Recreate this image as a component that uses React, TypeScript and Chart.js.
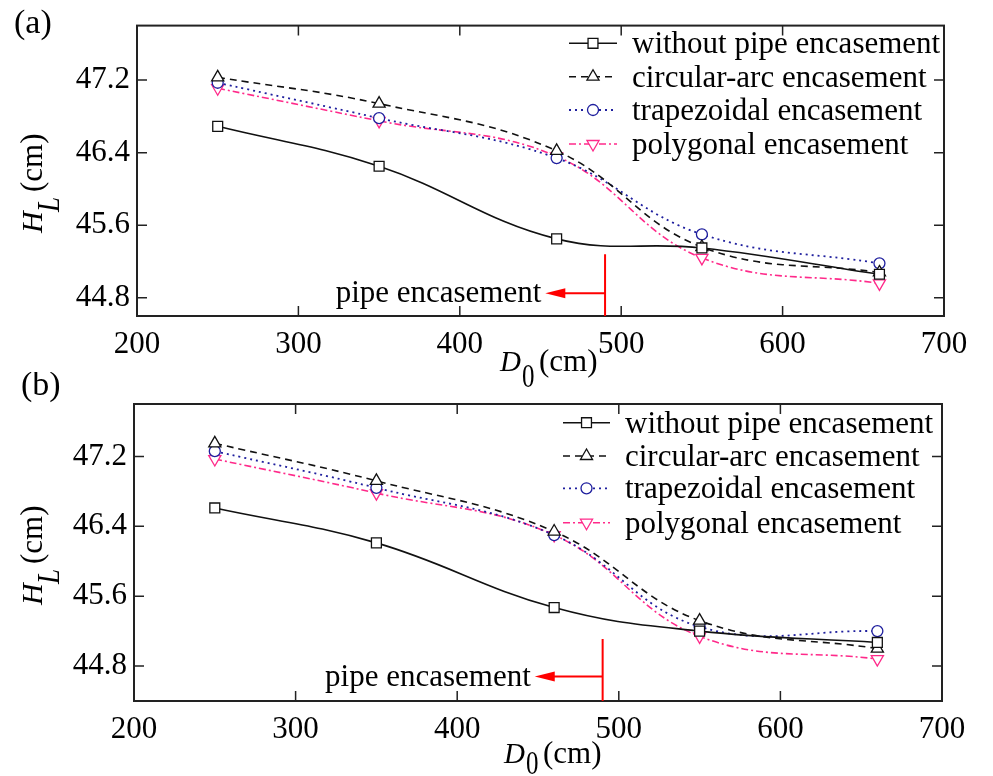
import React, { useEffect, useRef } from 'react';
import { Chart, registerables } from 'chart.js';

Chart.register(...registerables);

// ---------- data ----------
const D0_VALUES = [250, 350, 460, 550, 660];
const X_TICKS = [200, 300, 400, 500, 600, 700];
const Y_TICKS = [44.8, 45.6, 46.4, 47.2];
const SERIES_NAMES = [
  'without pipe encasement',
  'circular-arc encasement',
  'trapezoidal encasement',
  'polygonal encasement',
];

const A_WITHOUT = [46.69, 46.25, 45.45, 45.35, 45.06];
const A_CIRCULAR = [47.23, 46.94, 46.42, 45.36, 45.08];
const A_TRAPEZOIDAL = [47.17, 46.78, 46.34, 45.5, 45.18];
const A_POLYGONAL = [47.11, 46.75, 46.36, 45.24, 44.96];

const B_WITHOUT = [46.61, 46.21, 45.47, 45.2, 45.07];
const B_CIRCULAR = [47.35, 46.92, 46.34, 45.32, 45.0];
const B_TRAPEZOIDAL = [47.26, 46.84, 46.3, 45.25, 45.2];
const B_POLYGONAL = [47.17, 46.78, 46.3, 45.14, 44.88];

const ANNOT_TEXT = 'pipe encasement';

// ---------- styles ----------
const FONT = "'Liberation Serif', 'Times New Roman', serif";
const STYLES = [
  { color: '#111111', dash: [] as number[], point: 'rect', radius: 7, rot: 0, width: 1.6 },
  { color: '#111111', dash: [7, 5], point: 'triangle', radius: 7, rot: 0, width: 1.6 },
  { color: '#1f1f9e', dash: [2, 4], point: 'circle', radius: 5.5, rot: 0, width: 1.8 },
  { color: '#ff2a8a', dash: [7, 3, 2, 3], point: 'triangle', radius: 7, rot: 180, width: 1.6 },
];

type Panel = {
  label: string;
  top: number;
  height: number;
  padTop: number;
  padRight: number;
  yW: number;
  xH: number;
  yMin: number;
  yMax: number;
  series: number[][];
  labelPos: [number, number];
  dTitle: [number, number];
  subOff: number;
  hTitle: [number, number];
  legRows: number[];
  legX0: number;
  legX1: number;
  legTx: number;
  annX: number;
  annTop: number;
  annY: number;
  annTip: number;
};

const PANELS: Panel[] = [
  {
    label: '(a)', top: 0, height: 392, padTop: 20, padRight: 49, yW: 137, xH: 76,
    yMin: 44.6, yMax: 47.8,
    series: [A_WITHOUT, A_CIRCULAR, A_TRAPEZOIDAL, A_POLYGONAL],
    labelPos: [14, 33], dTitle: [500, 371], subOff: 16, hTitle: [42, 233],
    legRows: [43.3, 76.7, 110, 144], legX0: 569, legX1: 617, legTx: 632,
    annX: 490, annTop: 45.28, annY: 44.85, annTip: 453,
  },
  {
    label: '(b)', top: 372, height: 404, padTop: 32, padRight: 51, yW: 134, xH: 75,
    yMin: 44.4, yMax: 47.8,
    series: [B_WITHOUT, B_CIRCULAR, B_TRAPEZOIDAL, B_POLYGONAL],
    labelPos: [21, 23], dTitle: [504, 391], subOff: 11, hTitle: [42, 233],
    legRows: [50.7, 84, 116.3, 150.7], legX0: 563, legX1: 610, legTx: 625,
    annX: 490, annTop: 45.11, annY: 44.68, annTip: 448,
  },
];

function drawMarker(ctx: CanvasRenderingContext2D, i: number, x: number, y: number) {
  const s = STYLES[i];
  ctx.save();
  ctx.setLineDash([]);
  ctx.lineWidth = 1.3;
  ctx.strokeStyle = s.color;
  ctx.fillStyle = '#ffffff';
  ctx.beginPath();
  if (s.point === 'rect') {
    const h = s.radius * Math.SQRT1_2;
    ctx.rect(x - h, y - h, 2 * h, 2 * h);
  } else if (s.point === 'circle') {
    ctx.arc(x, y, s.radius, 0, Math.PI * 2);
  } else {
    const r = s.radius;
    const dir = s.rot === 180 ? -1 : 1;
    ctx.moveTo(x, y - dir * r);
    ctx.lineTo(x - r * 0.866, y + dir * r * 0.5);
    ctx.lineTo(x + r * 0.866, y + dir * r * 0.5);
    ctx.closePath();
  }
  ctx.fill();
  ctx.stroke();
  ctx.restore();
}

function makeDecor(p: Panel) {
  return {
    id: 'decor' + p.label,
    afterDraw(chart: any) {
      const ctx: CanvasRenderingContext2D = chart.ctx;
      const a = chart.chartArea;
      const xs = chart.scales.x;
      const ys = chart.scales.y;
      ctx.save();
      // frame
      ctx.strokeStyle = '#222';
      ctx.lineWidth = 2;
      ctx.strokeRect(a.left, a.top, a.right - a.left, a.bottom - a.top);
      // inward ticks
      ctx.lineWidth = 1.5;
      ctx.beginPath();
      X_TICKS.forEach((v) => {
        const px = xs.getPixelForValue(v);
        if (px <= a.left + 1 || px >= a.right - 1) return;
        ctx.moveTo(px, a.bottom);
        ctx.lineTo(px, a.bottom - 10);
        ctx.moveTo(px, a.top);
        ctx.lineTo(px, a.top + 10);
      });
      Y_TICKS.forEach((v) => {
        const py = ys.getPixelForValue(v);
        ctx.moveTo(a.left, py);
        ctx.lineTo(a.left + 10, py);
        ctx.moveTo(a.right, py);
        ctx.lineTo(a.right - 10, py);
      });
      ctx.stroke();

      ctx.fillStyle = '#000';
      ctx.textBaseline = 'alphabetic';
      ctx.textAlign = 'left';
      // panel label
      ctx.font = `34px ${FONT}`;
      ctx.fillText(p.label, p.labelPos[0], p.labelPos[1]);

      // x title D0 (cm)
      const [dx, dy] = p.dTitle;
      ctx.font = `italic 29px ${FONT}`;
      ctx.fillText('D', dx, dy);
      const dw = ctx.measureText('D').width;
      ctx.save();
      ctx.translate(dx + dw + 1, dy + p.subOff);
      ctx.scale(1, 1.35);
      ctx.font = `25px ${FONT}`;
      ctx.fillText('0', 0, 0);
      ctx.restore();
      ctx.font = `31px ${FONT}`;
      ctx.fillText('(cm)', dx + 39, dy);

      // y title HL (cm)
      ctx.save();
      ctx.translate(p.hTitle[0], p.hTitle[1]);
      ctx.rotate(-Math.PI / 2);
      ctx.font = `italic 30px ${FONT}`;
      ctx.fillText('H', 0, 0);
      ctx.save();
      ctx.translate(21, 17);
      ctx.scale(1, 1.15);
      ctx.font = `italic 27px ${FONT}`;
      ctx.fillText('L', 0, 0);
      ctx.restore();
      ctx.font = `31px ${FONT}`;
      ctx.fillText('(cm)', 41, 0);
      ctx.restore();

      // annotation
      const ax = xs.getPixelForValue(p.annX);
      const aTop = ys.getPixelForValue(p.annTop);
      const aY = ys.getPixelForValue(p.annY);
      const tip = xs.getPixelForValue(p.annTip);
      ctx.strokeStyle = '#ff0000';
      ctx.fillStyle = '#ff0000';
      ctx.lineWidth = 2;
      ctx.beginPath();
      ctx.moveTo(ax, aTop);
      ctx.lineTo(ax, a.bottom);
      ctx.moveTo(ax, aY);
      ctx.lineTo(tip + 16, aY);
      ctx.stroke();
      ctx.beginPath();
      ctx.moveTo(tip, aY);
      ctx.lineTo(tip + 20, aY - 5);
      ctx.lineTo(tip + 20, aY + 5);
      ctx.closePath();
      ctx.fill();
      ctx.fillStyle = '#000';
      ctx.textAlign = 'right';
      ctx.font = `31px ${FONT}`;
      ctx.fillText(ANNOT_TEXT, tip - 4, aY + 9);

      // legend
      ctx.textAlign = 'left';
      SERIES_NAMES.forEach((name, i) => {
        const s = STYLES[i];
        const y = p.legRows[i];
        ctx.strokeStyle = s.color;
        ctx.lineWidth = s.width;
        ctx.setLineDash(s.dash);
        ctx.beginPath();
        ctx.moveTo(p.legX0, y);
        ctx.lineTo(p.legX1, y);
        ctx.stroke();
        ctx.setLineDash([]);
        drawMarker(ctx, i, (p.legX0 + p.legX1) / 2, y);
        ctx.fillStyle = '#000';
        ctx.font = `31px ${FONT}`;
        ctx.fillText(name, p.legTx, y + 10);
      });
      ctx.restore();
    },
  };
}

function PanelChart({ p }: { p: Panel }) {
  const ref = useRef<HTMLCanvasElement | null>(null);
  useEffect(() => {
    if (!ref.current) return;
    const datasets = p.series.map((vals, i) => {
      const s = STYLES[i];
      return {
        label: SERIES_NAMES[i],
        data: D0_VALUES.map((x, k) => ({ x, y: vals[k] })),
        borderColor: s.color,
        borderWidth: s.width,
        borderDash: s.dash,
        tension: 0.4,
        fill: false,
        pointStyle: s.point,
        pointRadius: s.radius,
        pointRotation: s.rot,
        pointBorderColor: s.color,
        pointBackgroundColor: '#ffffff',
        pointBorderWidth: 1.3,
      };
    });
    const chart = new Chart(ref.current, {
      type: 'line',
      data: { datasets } as any,
      options: {
        animation: false,
        responsive: false,
        devicePixelRatio: 1,
        layout: { padding: { top: p.padTop, right: p.padRight, left: 0, bottom: 0 } },
        plugins: { legend: { display: false }, tooltip: { enabled: false } },
        scales: {
          x: {
            type: 'linear',
            min: 200,
            max: 700,
            afterBuildTicks: (s: any) => { s.ticks = X_TICKS.map((v) => ({ value: v })); },
            afterFit: (s: any) => { s.height = p.xH; },
            grid: { display: false, drawTicks: false },
            border: { display: false },
            ticks: { padding: 10, maxRotation: 0, color: '#000', font: { family: FONT, size: 31 } },
          },
          y: {
            type: 'linear',
            min: p.yMin,
            max: p.yMax,
            afterBuildTicks: (s: any) => { s.ticks = Y_TICKS.map((v) => ({ value: v })); },
            afterFit: (s: any) => { s.width = p.yW; },
            grid: { display: false, drawTicks: false },
            border: { display: false },
            ticks: {
              padding: 7,
              color: '#000',
              font: { family: FONT, size: 31 },
              callback: (v: any) => Number(v).toFixed(1),
            },
          },
        },
      } as any,
      plugins: [makeDecor(p)],
    });
    return () => chart.destroy();
  }, [p]);
  return (
    <canvas
      ref={ref}
      width={993}
      height={p.height}
      style={{ position: 'absolute', left: 0, top: p.top, width: 993, height: p.height, display: 'block' }}
    />
  );
}

export default function App() {
  return (
    <div style={{ position: 'absolute', left: 0, top: 0, width: 993, height: 776, background: '#fff' }}>
      {PANELS.map((p) => (
        <PanelChart key={p.label} p={p} />
      ))}
    </div>
  );
}
